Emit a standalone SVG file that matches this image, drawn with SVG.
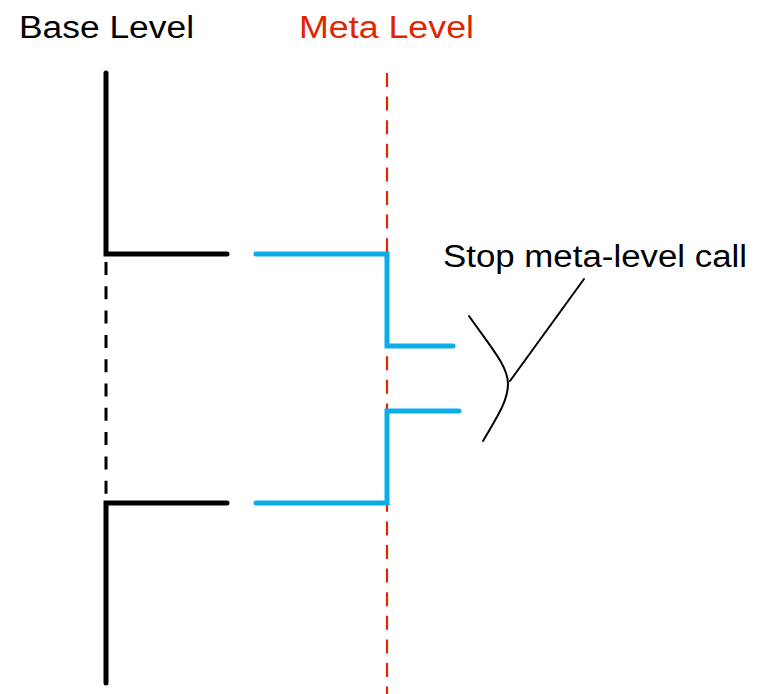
<svg xmlns="http://www.w3.org/2000/svg" width="761" height="694" viewBox="0 0 761 694">
<style>
.t{font-family:"Liberation Sans",Arial,Helvetica,sans-serif;font-size:31px}
.base{fill:none;stroke:#000;stroke-width:5;stroke-linecap:round;stroke-linejoin:miter}
.meta{fill:none;stroke:#0AAEE6;stroke-width:5;stroke-linecap:round;stroke-linejoin:miter}
.bdash{fill:none;stroke:#000;stroke-width:3;stroke-dasharray:13 11.3}
.rdash{fill:none;stroke:#E32400;stroke-width:2.2;stroke-dasharray:14 9.6}
.thin{fill:none;stroke:#000;stroke-width:2;stroke-linecap:round}
</style>
<rect width="761" height="694" fill="#fff"/>
<g id="labels">
<text class="t" x="19" y="37.5" fill="#000" textLength="175" lengthAdjust="spacingAndGlyphs">Base Level</text>
<text class="t" x="299" y="37.5" fill="#E32400" textLength="175" lengthAdjust="spacingAndGlyphs">Meta Level</text>
</g>
<g id="meta-axis">
<line class="rdash" x1="387" y1="73" x2="387" y2="694"/>
</g>
<g id="base-axis">
<path class="base" d="M106,73 L106,254 L227,254"/>
<line class="bdash" x1="106" y1="262" x2="106" y2="503"/>
<path class="base" d="M227,503 L106,503 L106,683"/>
</g>
<g id="meta-calls">
<path class="meta" d="M256,254 L387,254 L387,346 L453,346"/>
<path class="meta" d="M459,411 L387,411 L387,503 L256,503"/>
</g>
<g id="annotation">
<path class="thin" d="M469,316 C490,346 508,366 508,384 C508,402 495,420 483,441"/>
<line class="thin" x1="510" y1="381" x2="584" y2="279"/>
<text class="t" x="443" y="267" fill="#000" textLength="304" lengthAdjust="spacingAndGlyphs">Stop meta-level call</text>
</g>
</svg>
